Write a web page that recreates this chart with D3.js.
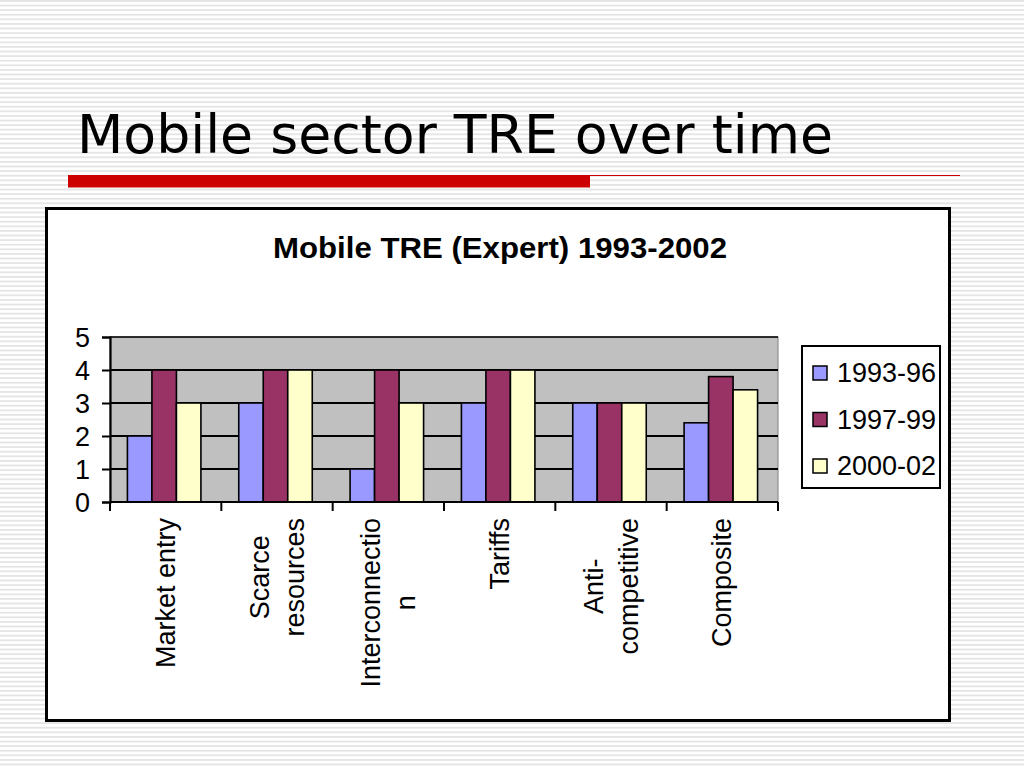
<!DOCTYPE html>
<html lang="en">
<head>
<meta charset="UTF-8">
<title>Mobile sector TRE over time</title>
<script src="https://cdn.jsdelivr.net/npm/d3@7"></script>
<style>
    body { margin: 0; padding: 0; background: #fff; }
    svg { display: block; }
    .tick text { font-family: "Liberation Sans", Arial, sans-serif; font-size: 27px; fill: #000; }
</style>
</head>
<body>
<div id="chart"></div>
<script>
// data
const categories = [
    ["Market entry"],
    ["Scarce", "resources"],
    ["Interconnectio", "n"],
    ["Tariffs"],
    ["Anti-", "competitive"],
    ["Composite"]
];
const seriesNames = ["1993-96", "1997-99", "2000-02"];
const s1993 = [2, 3, 1, 3, 3, 2.4];
const s1997 = [4, 4, 4, 4, 3, 3.8];
const s2000 = [3, 4, 3, 4, 3, 3.4];
const yTicks = [0, 1, 2, 3, 4, 5];
const colors = ["#9999ff", "#993366", "#ffffcc"];

const W = 1024, H = 768;
const svg = d3.select("#chart").append("svg")
    .attr("width", W).attr("height", H);

// striped slide background
const defs = svg.append("defs");
const pat = defs.append("pattern").attr("id", "stripes")
    .attr("patternUnits", "userSpaceOnUse")
    .attr("width", 8).attr("height", 4.6);
pat.append("rect").attr("width", 8).attr("height", 4.6).attr("fill", "#fff");
pat.append("rect").attr("y", 0).attr("width", 8).attr("height", 1.8).attr("fill", "#e4e4e4");
svg.append("rect").attr("width", W).attr("height", H).attr("fill", "url(#stripes)");

// slide title
svg.append("text")
    .attr("x", 77).attr("y", 153)
    .attr("font-family", "'DejaVu Sans', sans-serif")
    .attr("font-size", 54)
    .attr("textLength", 756).attr("lengthAdjust", "spacingAndGlyphs")
    .attr("fill", "#000")
    .text("Mobile sector TRE over time");

// red rule
svg.append("rect").attr("x", 68).attr("y", 175).attr("width", 522).attr("height", 12.5).attr("fill", "#cc0000");
svg.append("line").attr("x1", 590).attr("x2", 960).attr("y1", 175.5).attr("y2", 175.5)
    .attr("stroke", "#cc0000").attr("stroke-width", 1.2);

// chart frame
svg.append("rect").attr("x", 46.5).attr("y", 208.5).attr("width", 903).attr("height", 512)
    .attr("fill", "#fff").attr("stroke", "#000").attr("stroke-width", 3);

svg.append("text")
    .attr("x", 500).attr("y", 258)
    .attr("text-anchor", "middle")
    .attr("font-family", "'Liberation Sans', Arial, sans-serif")
    .attr("font-weight", "bold").attr("font-size", 30)
    .attr("textLength", 454).attr("lengthAdjust", "spacingAndGlyphs")
    .attr("fill", "#000")
    .text("Mobile TRE (Expert) 1993-2002");

// plot area
const plot = { left: 110, right: 778, top: 337, bottom: 502 };
const x = d3.scaleBand().domain(d3.range(categories.length)).range([plot.left, plot.right]);
const barW = 24.5;
const x1 = d3.scaleBand().domain(d3.range(seriesNames.length)).range([0, barW * 3]);
const y = d3.scaleLinear().domain([0, 5]).range([plot.bottom, plot.top]);

const g = svg.append("g");
g.append("rect")
    .attr("x", plot.left).attr("y", plot.top)
    .attr("width", plot.right - plot.left).attr("height", plot.bottom - plot.top)
    .attr("fill", "#c0c0c0").attr("stroke", "#808080").attr("stroke-width", 1);

g.selectAll("line.grid").data(yTicks.filter(d => d > 0)).join("line")
    .attr("class", "grid")
    .attr("x1", plot.left).attr("x2", plot.right)
    .attr("y1", d => y(d)).attr("y2", d => y(d))
    .attr("stroke", "#000").attr("stroke-width", d => d === 5 ? 1.5 : 2.2);

const table = categories.map((c, i) => [s1993[i], s1997[i], s2000[i]]);
const groups = g.selectAll("g.cat").data(table).join("g")
    .attr("class", "cat")
    .attr("transform", (d, i) => `translate(${x(i) + (x.bandwidth() - barW * 3) / 2 - 1.5},0)`);
groups.selectAll("rect").data(d => d).join("rect")
    .attr("x", (d, j) => x1(j))
    .attr("y", d => y(d))
    .attr("width", x1.bandwidth())
    .attr("height", d => y(0) - y(d))
    .attr("fill", (d, j) => colors[j])
    .attr("stroke", "#000").attr("stroke-width", 1.6);

// y axis
const yAxis = svg.append("g")
    .attr("transform", `translate(${plot.left},0)`)
    .call(d3.axisLeft(y).tickValues(yTicks).tickFormat(d3.format("d")).tickSize(8).tickPadding(12));
yAxis.select(".domain").attr("stroke", "#000").attr("stroke-width", 2.2);
yAxis.selectAll(".tick line").attr("stroke", "#000").attr("stroke-width", 2);
yAxis.selectAll(".tick text").attr("dy", "0.36em");

// x axis line and boundary ticks
svg.append("line")
    .attr("x1", plot.left).attr("x2", plot.right)
    .attr("y1", plot.bottom).attr("y2", plot.bottom)
    .attr("stroke", "#000").attr("stroke-width", 2.2);
const bounds = d3.range(categories.length).map(i => x(i)).concat([x.range()[1]]);
svg.selectAll("line.xt").data(bounds).join("line")
    .attr("class", "xt")
    .attr("x1", d => d).attr("x2", d => d)
    .attr("y1", plot.bottom).attr("y2", plot.bottom + 9)
    .attr("stroke", "#000").attr("stroke-width", 2);

// rotated category labels, top-anchored, lines centred on longest line
const lineGap = 35;
categories.forEach((lines, i) => {
    const cx = x(i) + x.bandwidth() / 2;
    const lab = svg.append("g");
    const texts = lines.map((t, k) => lab.append("text")
        .attr("font-family", "'Liberation Sans', Arial, sans-serif")
        .attr("font-size", 27)
        .attr("text-anchor", "middle")
        .attr("fill", "#000")
        .text(t));
    const maxLen = d3.max(texts, t => t.node().getComputedTextLength());
    const cy = 518 + maxLen / 2;
    texts.forEach((t, k) => {
        const bx = cx - (lines.length - 1) * lineGap / 2 + k * lineGap + 9;
        t.attr("transform", `translate(${bx},${cy}) rotate(-90)`);
    });
});

// legend
const leg = svg.append("g");
leg.append("rect").attr("x", 802).attr("y", 346).attr("width", 138).attr("height", 142)
    .attr("fill", "#fff").attr("stroke", "#000").attr("stroke-width", 2);
const rowY = d3.scalePoint().domain(seriesNames).range([373, 466]);
const items = leg.selectAll("g.item").data(seriesNames).join("g")
    .attr("class", "item")
    .attr("transform", d => `translate(0,${rowY(d)})`);
items.append("rect")
    .attr("x", 813).attr("y", -7).attr("width", 14).attr("height", 14)
    .attr("fill", (d, i) => colors[i]).attr("stroke", "#000").attr("stroke-width", 1.5);
items.append("text")
    .attr("x", 837).attr("y", 9)
    .attr("font-family", "'Liberation Sans', Arial, sans-serif")
    .attr("font-size", 27)
    .attr("fill", "#000")
    .text(d => d);
</script>
</body>
</html>
